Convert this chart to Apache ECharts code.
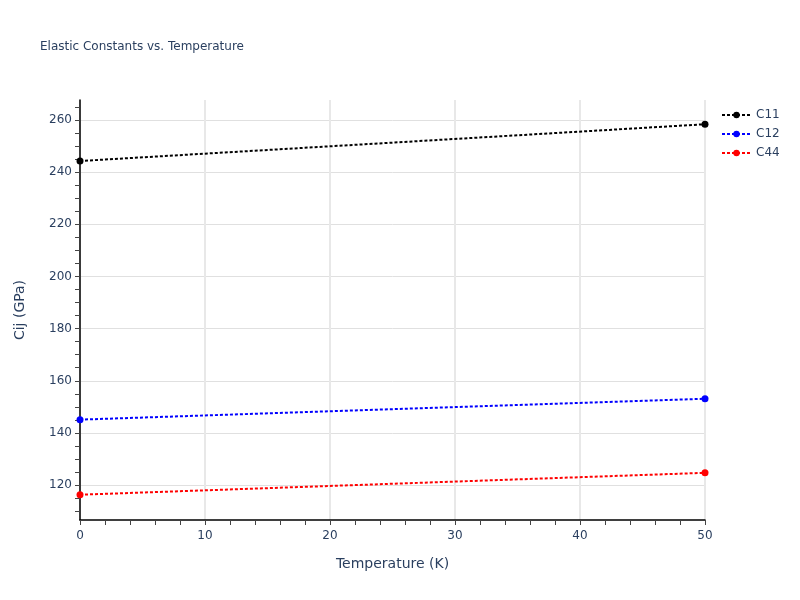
<!DOCTYPE html>
<html>
<head>
<meta charset="utf-8">
<script src="https://cdn.jsdelivr.net/npm/echarts@6/dist/echarts.min.js"></script>
<style>
  html, body { margin: 0; padding: 0; background: #fff; }
  #chart { width: 800px; height: 600px; }
</style>
</head>
<body>
<div id="chart"></div>
<script>
// data
const temperature = [0, 50];
const c11 = [244.3, 258.4];
const c12 = [145.1, 153.1];
const c44 = [116.3, 124.7];
const yTicks = [120, 140, 160, 180, 200, 220, 240, 260];
const yMinorTicks = [110, 115, 125, 130, 135, 145, 150, 155, 165, 170, 175, 185,
  190, 195, 205, 210, 215, 225, 230, 235, 245, 250, 255, 265];

const font = '"DejaVu Sans", Verdana, sans-serif';
const textColor = '#2a3f5f';
const yMin = 106.6, yMax = 267.7;

function makeSeries(name, values, color) {
  return {
    name: name,
    type: 'line',
    data: temperature.map((t, i) => [t, values[i]]),
    symbol: 'circle',
    symbolSize: 7,
    clip: false,
    itemStyle: { color: color },
    lineStyle: { color: color, width: 2, type: [3, 2] }
  };
}

const myChart = echarts.init(document.getElementById('chart'));
const option = {
  backgroundColor: '#fff',
  animation: false,
  textStyle: { fontFamily: font },
  title: {
    text: 'Elastic Constants vs. Temperature',
    left: 35,
    top: 36,
    textStyle: { fontFamily: font, fontSize: 12, fontWeight: 'normal', color: textColor }
  },
  legend: {
    orient: 'vertical',
    left: 716,
    top: 104,
    itemGap: 7,
    itemWidth: 29,
    itemHeight: 8,
    textStyle: { fontFamily: font, fontSize: 12, color: textColor },
    data: ['C11', 'C12', 'C44']
  },
  grid: { left: 80, right: 95, top: 100, bottom: 80 },
  xAxis: {
    type: 'value',
    min: 0,
    max: 50,
    interval: 10,
    name: 'Temperature (K)',
    nameLocation: 'middle',
    nameGap: 37,
    nameTextStyle: { fontFamily: font, fontSize: 14, color: textColor },
    axisLine: { show: true, onZero: false, lineStyle: { color: '#000', width: 1.5 } },
    axisTick: { show: true, length: 5, lineStyle: { color: '#444' } },
    minorTick: { show: true, splitNumber: 5, length: 5, lineStyle: { color: '#444' } },
    axisLabel: { fontFamily: font, fontSize: 12, color: textColor, margin: 10 },
    splitLine: { show: true, lineStyle: { color: '#e8e8e8', width: 2 } }
  },
  yAxis: [{
    type: 'value',
    min: yMin,
    max: yMax,
    name: 'Cij (GPa)',
    nameLocation: 'middle',
    nameGap: 53,
    nameTextStyle: { fontFamily: font, fontSize: 14, color: textColor },
    axisLine: { show: true, onZero: false, lineStyle: { color: '#000', width: 1.5 } },
    axisTick: { show: true, length: 5, customValues: yTicks, lineStyle: { color: '#444' } },
    axisLabel: { fontFamily: font, fontSize: 12, color: textColor, margin: 8, customValues: yTicks },
    splitLine: { show: true, lineStyle: { color: '#e0e0e0', width: 1 } }
  }, {
    // overlay axis carrying the minor ticks only
    type: 'value',
    position: 'left',
    min: yMin,
    max: yMax,
    axisLine: { show: false },
    axisTick: { show: true, length: 5, customValues: yMinorTicks, lineStyle: { color: '#444' } },
    axisLabel: { show: false },
    splitLine: { show: false }
  }],
  series: [
    makeSeries('C11', c11, '#000000'),
    makeSeries('C12', c12, '#0000ff'),
    makeSeries('C44', c44, '#ff0000')
  ]
};
myChart.setOption(option);
</script>
</body>
</html>
